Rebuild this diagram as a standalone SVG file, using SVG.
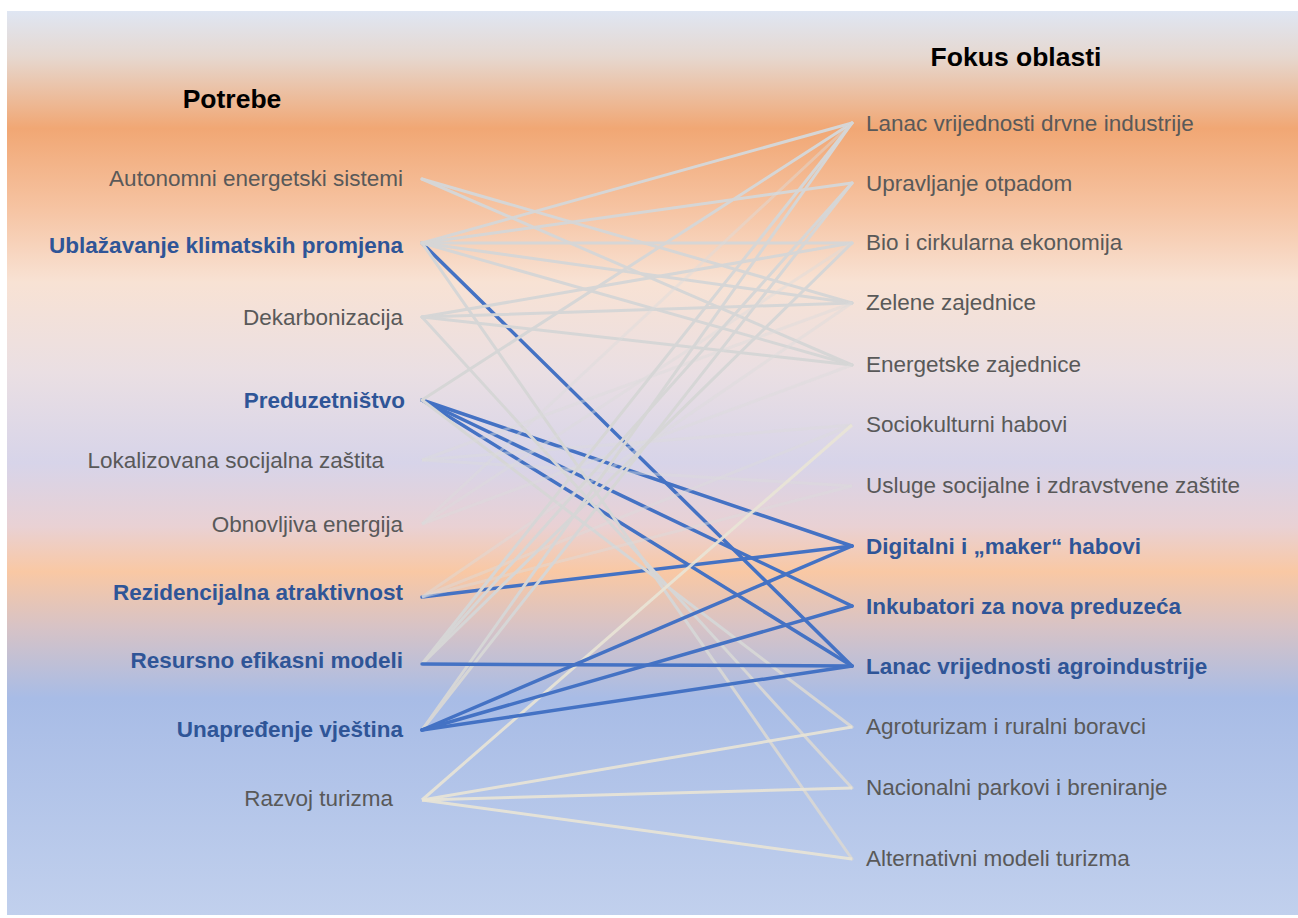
<svg xmlns="http://www.w3.org/2000/svg" width="1298" height="918" viewBox="0 0 1298 918">
<style>
text{font-family:"Liberation Sans",Arial,sans-serif;font-size:22.5px}
.h{font-weight:bold;font-size:26.5px;fill:#000}
.n{fill:#595959}
.b{fill:#2f5597;font-weight:bold}
.l{text-anchor:end}
.g{stroke:#d6d6d6;stroke-width:3;fill:none;stroke-linecap:round}
.f{stroke:#dcdcdc;stroke-width:3;fill:none;opacity:.45}
.t{stroke:#e9e4d6;stroke-width:3;fill:none;opacity:.9}
.bl{stroke:#4472c4;stroke-width:3.5;fill:none;stroke-linecap:round}
</style>
<defs>
<linearGradient id="bg" x1="0" y1="0" x2="0" y2="1">
<stop offset="0" stop-color="#dfe6f3"/>
<stop offset="0.05" stop-color="#e6d8d0"/>
<stop offset="0.13" stop-color="#f1a774"/>
<stop offset="0.22" stop-color="#f6c4a3"/>
<stop offset="0.30" stop-color="#f8e2d4"/>
<stop offset="0.40" stop-color="#eadfe3"/>
<stop offset="0.50" stop-color="#d7d4e9"/>
<stop offset="0.57" stop-color="#e9d1d4"/>
<stop offset="0.62" stop-color="#f9c8a4"/>
<stop offset="0.68" stop-color="#d8c3c5"/>
<stop offset="0.76" stop-color="#a8bce6"/>
<stop offset="1" stop-color="#c1d0ed"/>
</linearGradient>
</defs>
<rect x="0" y="0" width="1298" height="918" fill="#fff"/>
<rect x="7" y="11" width="1291" height="904" fill="url(#bg)"/>

<g id="connectors">
<g id="blue-under">
<line class="bl" x1="422" y1="243" x2="852" y2="666"/>
<line class="bl" x1="422" y1="400" x2="852" y2="546"/>
<line class="bl" x1="422" y1="400" x2="852" y2="606"/>
<line class="bl" x1="422" y1="400" x2="852" y2="666"/>
<line class="bl" x1="422" y1="597" x2="852" y2="546"/>
</g>
<g id="gray">
<line class="g" x1="422" y1="179" x2="852" y2="303"/>
<line class="g" x1="422" y1="179" x2="852" y2="365"/>
<line class="g" x1="422" y1="243" x2="852" y2="123"/>
<line class="g" x1="422" y1="243" x2="852" y2="183"/>
<line class="g" x1="422" y1="243" x2="852" y2="243"/>
<line class="g" x1="422" y1="243" x2="852" y2="303"/>
<line class="g" x1="422" y1="243" x2="852" y2="365"/>
<line class="g" x1="422" y1="243" x2="852" y2="859"/>
<line class="g" x1="422" y1="317" x2="852" y2="243"/>
<line class="g" x1="422" y1="317" x2="852" y2="303"/>
<line class="g" x1="422" y1="317" x2="852" y2="365"/>
<line class="g" x1="422" y1="317" x2="852" y2="788"/>
<line class="g" x1="422" y1="400" x2="852" y2="123"/>
<line class="g" x1="422" y1="400" x2="852" y2="727"/>
<line class="f" x1="422" y1="460" x2="852" y2="303"/>
<line class="f" x1="422" y1="460" x2="852" y2="425"/>
<line class="f" x1="422" y1="460" x2="852" y2="486"/>
<line class="f" x1="422" y1="524" x2="852" y2="123"/>
<line class="f" x1="422" y1="524" x2="852" y2="243"/>
<line class="f" x1="422" y1="524" x2="852" y2="365"/>
<line class="f" x1="422" y1="597" x2="852" y2="303"/>
<line class="f" x1="422" y1="597" x2="852" y2="425"/>
<line class="f" x1="422" y1="597" x2="852" y2="486"/>
<line class="g" x1="422" y1="664" x2="852" y2="123"/>
<line class="g" x1="422" y1="664" x2="852" y2="183"/>
<line class="g" x1="422" y1="664" x2="852" y2="243"/>
<line class="g" x1="422" y1="730" x2="852" y2="123"/>
<line class="g" x1="422" y1="730" x2="852" y2="183"/>
<line class="t" x1="422" y1="800" x2="852" y2="425"/>
<line class="t" x1="422" y1="800" x2="852" y2="727"/>
<line class="t" x1="422" y1="800" x2="852" y2="788"/>
<line class="t" x1="422" y1="800" x2="852" y2="859"/>
</g>
<g id="blue-over">
<line class="bl" x1="422" y1="664" x2="852" y2="666"/>
<line class="bl" x1="422" y1="730" x2="852" y2="546"/>
<line class="bl" x1="422" y1="730" x2="852" y2="606"/>
<line class="bl" x1="422" y1="730" x2="852" y2="666"/>
</g>
</g>

<g id="heading-needs"><text class="h" x="232" y="108" text-anchor="middle">Potrebe</text></g>
<g id="heading-focus"><text class="h" x="1016" y="66" text-anchor="middle">Fokus oblasti</text></g>

<g id="need-autonomni"><text class="n l" x="403" y="186">Autonomni energetski sistemi</text></g>
<g id="need-ublazavanje"><text class="b l" x="403" y="253">Ublažavanje klimatskih promjena</text></g>
<g id="need-dekarbonizacija"><text class="n l" x="403" y="325">Dekarbonizacija</text></g>
<g id="need-preduzetnistvo"><text class="b l" x="405" y="408">Preduzetništvo</text></g>
<g id="need-lokalizovana"><text class="n l" x="384" y="468">Lokalizovana socijalna zaštita</text></g>
<g id="need-obnovljiva"><text class="n l" x="403" y="532">Obnovljiva energija</text></g>
<g id="need-rezidencijalna"><text class="b l" x="403" y="600">Rezidencijalna atraktivnost</text></g>
<g id="need-resursno"><text class="b l" x="403" y="668">Resursno efikasni modeli</text></g>
<g id="need-unapredjenje"><text class="b l" x="403" y="737">Unapređenje vještina</text></g>
<g id="need-razvoj"><text class="n l" x="393" y="806">Razvoj turizma</text></g>

<g id="focus-drvna"><text class="n" x="866" y="131">Lanac vrijednosti drvne industrije</text></g>
<g id="focus-otpad"><text class="n" x="866" y="191">Upravljanje otpadom</text></g>
<g id="focus-bio"><text class="n" x="866" y="250">Bio i cirkularna ekonomija</text></g>
<g id="focus-zelene"><text class="n" x="866" y="310">Zelene zajednice</text></g>
<g id="focus-energetske"><text class="n" x="866" y="372">Energetske zajednice</text></g>
<g id="focus-sociokulturni"><text class="n" x="866" y="432">Sociokulturni habovi</text></g>
<g id="focus-usluge"><text class="n" x="866" y="493">Usluge socijalne i zdravstvene zaštite</text></g>
<g id="focus-digitalni"><text class="b" x="866" y="554">Digitalni i „maker“ habovi</text></g>
<g id="focus-inkubatori"><text class="b" x="866" y="614">Inkubatori za nova preduzeća</text></g>
<g id="focus-agro"><text class="b" x="866" y="674">Lanac vrijednosti agroindustrije</text></g>
<g id="focus-agroturizam"><text class="n" x="866" y="734">Agroturizam i ruralni boravci</text></g>
<g id="focus-parkovi"><text class="n" x="866" y="795">Nacionalni parkovi i breniranje</text></g>
<g id="focus-alternativni"><text class="n" x="866" y="866">Alternativni modeli turizma</text></g>
</svg>
